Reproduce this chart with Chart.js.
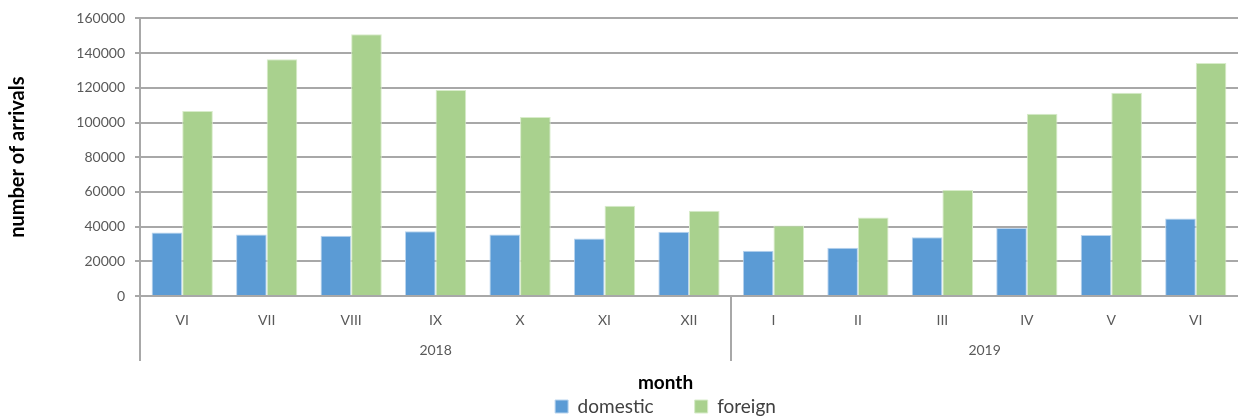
<!DOCTYPE html>
<html>
<head>
<meta charset="utf-8">
<script src="https://cdn.jsdelivr.net/npm/chart.js@4/dist/chart.umd.min.js"></script>
<style>
html,body{margin:0;padding:0;background:#fff;}
canvas{display:block;}
</style>
</head>
<body>
<canvas id="c" width="1238" height="418"></canvas>
<script>
const months = ['VI','VII','VIII','IX','X','XI','XII','I','II','III','IV','V','VI'];
const years = ['2018','2019'];
const yearSpans = [7, 6];
const domestic = [36600, 35400, 34700, 37300, 35400, 33100, 37100, 26100, 27800, 33900, 39200, 35200, 44700];
const foreign = [106700, 136400, 150900, 118700, 103200, 52000, 49100, 40600, 45300, 61100, 105100, 117100, 134300];
const yTicks = [0, 20000, 40000, 60000, 80000, 100000, 120000, 140000, 160000];

const FONT = 'Lato';
const GRID = '#a8a8a8';

// year group centres and starts (in category index units)
const yearStarts = [];
const yearCenters = [];
let acc = 0;
yearSpans.forEach(n => { yearStarts.push(acc - 0.5); yearCenters.push(acc + (n - 1) / 2); acc += n; });

const separators = {
  id: 'separators',
  afterDraw(chart) {
    const s = chart.scales.x2;
    const ctx = chart.ctx;
    ctx.save();
    ctx.strokeStyle = GRID;
    ctx.lineWidth = 2;
    yearStarts.forEach(v => {
      const x = Math.round(s.getPixelForValue(v));
      ctx.beginPath();
      ctx.moveTo(x, chart.chartArea.bottom);
      ctx.lineTo(x, s.top + 25);
      ctx.stroke();
    });
    ctx.restore();
  }
};

new Chart(document.getElementById('c'), {
  type: 'bar',
  data: {
    labels: months,
    datasets: [
      { label: 'domestic', data: domestic, backgroundColor: '#5b9bd5', borderColor: '#b9d4ee', borderWidth: 1 },
      { label: 'foreign', data: foreign, backgroundColor: '#a9d18e', borderColor: '#d8ecca', borderWidth: 1 }
    ]
  },
  options: {
    responsive: false,
    animation: false,
    devicePixelRatio: 1,
    layout: { padding: { top: 16, left: 0, right: -93, bottom: 0 } },
    datasets: { bar: { categoryPercentage: 0.725, barPercentage: 1.0 } },
    scales: {
      x: {
        type: 'category',
        weight: 0,
        grid: { display: false, drawTicks: false },
        border: { display: true, color: GRID, width: 2 },
        ticks: { autoSkip: false, maxRotation: 0, padding: 16, color: '#595959', font: { family: FONT, size: 14 } },
        afterFit(s) { s.height = 40; }
      },
      x2: {
        type: 'linear',
        position: 'bottom',
        weight: 1,
        offset: false,
        min: -0.5,
        max: 12.5,
        grid: { display: false, drawTicks: false },
        border: { display: false },
        afterBuildTicks(s) { s.ticks = yearCenters.map(v => ({ value: v })); },
        ticks: {
          padding: 6,
          color: '#595959',
          font: { family: FONT, size: 14 },
          callback(v) { const i = yearCenters.indexOf(v); return i >= 0 ? years[i] : ''; }
        },
        afterFit(s) { s.height = 20; }
      },
      y: {
        position: 'left',
        min: 0,
        max: 160000,
        afterBuildTicks(s) { s.ticks = yTicks.map(v => ({ value: v })); },
        grid: { color: GRID, lineWidth: 2, tickLength: 5, drawTicks: true },
        border: { display: true, color: GRID, width: 2 },
        ticks: { padding: 10, color: '#595959', font: { family: FONT, size: 14 }, callback: v => String(v) },
        title: {
          display: true,
          text: 'number of arrivals',
          color: '#000',
          font: { family: FONT, size: 20, weight: 'bold' },
          padding: { top: 6, bottom: 0 }
        },
        afterFit(s) { s.width = 140; }
      },
      spacer: {
        type: 'linear',
        position: 'right',
        display: true,
        grid: { display: false, drawTicks: false },
        border: { display: false },
        ticks: { display: false },
        afterFit(s) { s.width = 90; }
      }
    },
    plugins: {
      legend: {
        position: 'bottom',
        weight: 1000,
        maxHeight: 62,
        labels: {
          boxWidth: 13,
          boxHeight: 13,
          padding: 41,
          color: '#404040',
          font: { family: FONT, size: 19 }
        }
      },
      title: {
        display: true,
        text: 'month',
        position: 'bottom',
        weight: 500,
        color: '#000',
        font: { family: FONT, size: 19, weight: 'bold' },
        padding: { top: 15.6, bottom: -38.4 }
      },
      tooltip: { enabled: false }
    }
  },
  plugins: [separators]
});
</script>
</body>
</html>
